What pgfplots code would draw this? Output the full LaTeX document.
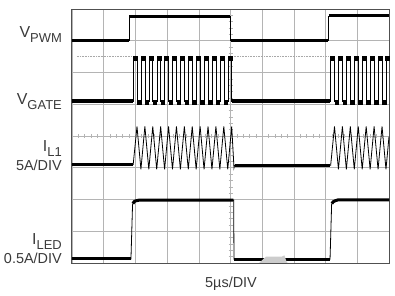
\documentclass[border=0pt]{standalone}
\usepackage{pgfplots}
\pgfplotsset{compat=1.18}
\usepackage{fontspec}
\setmainfont{Liberation Sans}
\definecolor{txt}{HTML}{3A3A3A}
\definecolor{gridc}{HTML}{B4B4B4}
\definecolor{framec}{HTML}{505050}
\definecolor{ghost}{HTML}{A8A8A8}
\newcommand\sig[2]{{\fontsize{16}{16}\selectfont #1}\raisebox{-5bp}{\fontsize{13}{14}\selectfont #2}}
\newcommand\lab{\fontsize{14.5}{15}\selectfont}
\begin{document}
\begin{tikzpicture}
% centre graticule lines with small division ticks
\begin{axis}[scale only axis, width=317bp, height=254bp, at={(0,0)}, anchor=south west,
  xmin=-5, xmax=5, ymin=-4, ymax=4, axis lines=middle,
  axis line style={-, draw=gridc, line width=0.6bp},
  xtick={-5,-4.8,...,5}, ytick={-4,-3.8,...,4}, xticklabels={}, yticklabels={},
  major tick length=4bp, tick align=center, tick style={gridc, line width=0.6bp}]
\addplot[draw=none] coordinates {(0,0)};
\end{axis}
\begin{axis}[scale only axis, width=317bp, height=254bp, at={(0,0)}, anchor=south west,
  xmin=0, xmax=10, ymin=0, ymax=8,
  xtick={0,...,10}, ytick={0,...,8}, xticklabels={}, yticklabels={},
  major tick length=0pt, grid=major, grid style={gridc, line width=0.6bp},
  axis line style={framec, line width=1bp}, clip mode=individual]
% ---------------- V_PWM
\addplot[black, line width=0.8bp] coordinates {(0,7.02) (1.80,7.02) (1.80,7.77) (5.00,7.77) (5.00,7.02) (8.09,7.02) (8.09,7.78) (10,7.78)};
\addplot[black, line width=3bp] coordinates {(0,7.02) (1.79,7.02)};
\addplot[black, line width=3bp] coordinates {(1.81,7.77) (4.99,7.77)};
\addplot[black, line width=3bp] coordinates {(5.01,7.02) (8.08,7.02)};
\addplot[black, line width=3bp] coordinates {(8.10,7.78) (10,7.78)};
% ---------------- V_GATE
\addplot[ghost, densely dotted, line width=0.6bp] coordinates {(0.15,6.50) (1.90,6.50)};
\addplot[ghost, densely dotted, line width=0.6bp] coordinates {(5.10,6.50) (8.12,6.50)};
\addplot[black, line width=0.6bp] coordinates {
 (0,5.10) (1.930,5.10) (1.930,6.50) (2.050,6.50) (2.050,5.10)
 (2.179,5.10) (2.179,6.50) (2.299,6.50) (2.299,5.10)
 (2.428,5.10) (2.428,6.50) (2.548,6.50) (2.548,5.10)
 (2.677,5.10) (2.677,6.50) (2.797,6.50) (2.797,5.10)
 (2.926,5.10) (2.926,6.50) (3.046,6.50) (3.046,5.10)
 (3.175,5.10) (3.175,6.50) (3.295,6.50) (3.295,5.10)
 (3.424,5.10) (3.424,6.50) (3.544,6.50) (3.544,5.10)
 (3.673,5.10) (3.673,6.50) (3.793,6.50) (3.793,5.10)
 (3.922,5.10) (3.922,6.50) (4.042,6.50) (4.042,5.10)
 (4.171,5.10) (4.171,6.50) (4.291,6.50) (4.291,5.10)
 (4.420,5.10) (4.420,6.50) (4.540,6.50) (4.540,5.10)
 (4.669,5.10) (4.669,6.50) (4.789,6.50) (4.789,5.10)
 (4.918,5.10) (4.918,6.50) (5.038,6.50) (5.038,5.10)
 (8.16,5.10) (8.16,6.50) (8.28,6.50) (8.28,5.10)
 (8.41,5.10) (8.41,6.50) (8.53,6.50) (8.53,5.10)
 (8.66,5.10) (8.66,6.50) (8.78,6.50) (8.78,5.10)
 (8.91,5.10) (8.91,6.50) (9.03,6.50) (9.03,5.10)
 (9.16,5.10) (9.16,6.50) (9.28,6.50) (9.28,5.10)
 (9.41,5.10) (9.41,6.50) (9.53,6.50) (9.53,5.10)
 (9.66,5.10) (9.66,6.50) (9.78,6.50) (9.78,5.10)
 (9.91,5.10) (9.91,6.50) (10,6.50)};
\addplot[black, line width=3.2bp] coordinates {(0,5.10) (1.92,5.10)};
\addplot[black, line width=3.2bp] coordinates {(5.05,5.10) (8.15,5.10)};
\addplot[black, only marks, mark=square*, mark size=2.0bp] coordinates {
 (1.990,6.46) (2.239,6.46) (2.488,6.46) (2.737,6.46) (2.986,6.46) (3.235,6.46) (3.484,6.46)
 (3.733,6.46) (3.982,6.46) (4.231,6.46) (4.480,6.46) (4.729,6.46) (4.978,6.46)
 (8.22,6.46) (8.47,6.46) (8.72,6.46) (8.97,6.46) (9.22,6.46) (9.47,6.46) (9.72,6.46) (9.955,6.46)};
\addplot[black, only marks, mark=square*, mark size=1.7bp] coordinates {
 (2.115,5.07) (2.364,5.07) (2.613,5.07) (2.862,5.07) (3.111,5.07) (3.360,5.07) (3.609,5.07)
 (3.858,5.07) (4.107,5.07) (4.356,5.07) (4.605,5.07) (4.854,5.07)
 (8.345,5.07) (8.595,5.07) (8.845,5.07) (9.095,5.07) (9.345,5.07) (9.595,5.07) (9.845,5.07)};
% ---------------- I_L1
\addplot[black, line width=0.8bp] coordinates {
 (0,3.10) (1.93,3.10)
 (2.050,4.30) (2.174,2.95) (2.299,4.30) (2.423,2.95) (2.548,4.30) (2.672,2.95)
 (2.797,4.30) (2.921,2.95) (3.046,4.30) (3.170,2.95) (3.295,4.30) (3.419,2.95)
 (3.544,4.30) (3.668,2.95) (3.793,4.30) (3.917,2.95) (4.042,4.30) (4.166,2.95)
 (4.291,4.30) (4.415,2.95) (4.540,4.30) (4.664,2.95) (4.789,4.30) (4.913,2.95)
 (5.038,4.30) (5.11,3.00) (5.13,3.08) (8.16,3.08)
 (8.28,4.30) (8.405,2.95) (8.53,4.30) (8.655,2.95) (8.78,4.30) (8.905,2.95)
 (9.03,4.30) (9.155,2.95) (9.28,4.30) (9.405,2.95) (9.53,4.30) (9.655,2.95)
 (9.78,4.30) (9.905,2.95) (10,3.98)};
\addplot[black, line width=3bp] coordinates {(0,3.10) (1.92,3.10)};
\addplot[black, line width=3bp] coordinates {(5.14,3.08) (8.15,3.08)};
% ---------------- I_LED
\addplot[black, line width=0.8bp] coordinates {
 (0,0.13) (1.86,0.13) (1.91,1.84) (1.95,1.92) (2.00,1.96) (2.10,1.98) (5.10,1.98)
 (5.11,0.12) (8.14,0.12) (8.19,1.84) (8.23,1.92) (8.28,1.96) (8.38,1.99) (10,1.99)};
\addplot[black, line width=3bp] coordinates {(0,0.13) (1.85,0.13)};
\addplot[black, line width=3bp] coordinates {(1.92,1.87) (1.96,1.93) (2.02,1.96) (2.12,1.98) (5.09,1.98)};
\addplot[black, line width=3bp] coordinates {(5.12,0.12) (8.13,0.12)};
\addplot[black, line width=3bp] coordinates {(8.20,1.87) (8.24,1.93) (8.30,1.96) (8.40,1.99) (10,1.99)};
% ground marker
\addplot[fill=gray!40, draw=none] coordinates {(5.90,0) (6.12,0.20) (6.62,0.20) (6.70,0.24) (6.76,0.06) (6.80,0) (5.90,0)};
% ---------------- labels
\node[anchor=base east, inner sep=0, text=txt, xshift=-10bp, yshift=225.3bp] at (axis cs:0,0) {\sig{V}{PWM}};
\node[anchor=base east, inner sep=0, text=txt, xshift=-10bp, yshift=158bp] at (axis cs:0,0) {\sig{V}{GATE}};
\node[anchor=base east, inner sep=0, text=txt, xshift=-10bp, yshift=111bp] at (axis cs:0,0) {\sig{I}{L1}};
\node[anchor=base east, inner sep=0, text=txt, xshift=-10bp, yshift=92.5bp] at (axis cs:0,0) {\lab 5A/DIV};
\node[anchor=base east, inner sep=0, text=txt, xshift=-10bp, yshift=18.5bp] at (axis cs:0,0) {\sig{I}{LED}};
\node[anchor=base east, inner sep=0, text=txt, xshift=-10bp, yshift=-0.3bp] at (axis cs:0,0) {\lab 0.5A/DIV};
\node[anchor=base west, inner sep=0, text=txt, xshift=133bp, yshift=-24.7bp] at (axis cs:0,0) {\lab 5µs/DIV};
\end{axis}
\pgfresetboundingbox
\path (-72bp,-33bp) rectangle (323bp,263bp);
\end{tikzpicture}
\end{document}
